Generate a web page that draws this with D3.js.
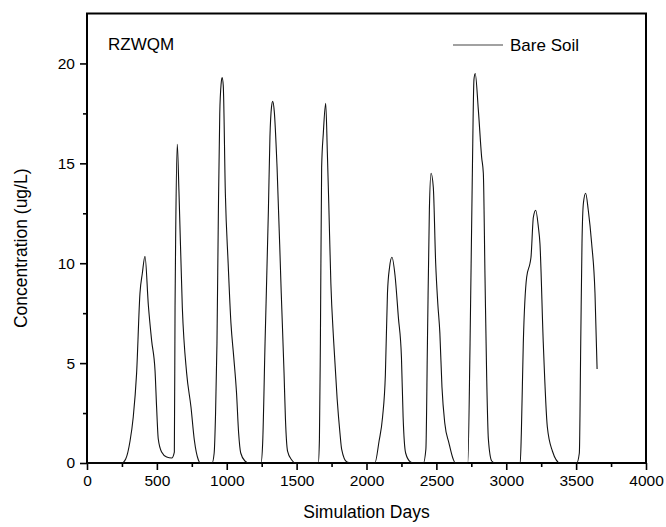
<!DOCTYPE html>
<html>
<head>
<meta charset="utf-8">
<script src="https://cdn.jsdelivr.net/npm/d3@7"></script>
<style>
  body { margin: 0; background: #fff; }
  text { font-family: "Liberation Sans", Arial, sans-serif; fill: #000; }
</style>
</head>
<body>
<div class="canvas"></div>
<script>
// simulated days and concentrations
const days = [
    0, 248, 277, 308, 331, 355, 379, 396, 415, 439, 463, 487, 498, 510, 534, 570, 606, 625, 630, 635, 646, 658, 682, 713, 744, 768, 797, 810,
    895, 910, 920, 930, 940, 950, 960, 967, 975, 990, 1010, 1030, 1050, 1070, 1085, 1100, 1130, 1160,
    1245, 1257, 1274, 1298, 1309, 1320, 1329, 1340, 1360, 1390, 1410, 1420, 1435, 1465, 1490,
    1655, 1663, 1670, 1679, 1691, 1708, 1720, 1730, 1745, 1765, 1790, 1810, 1822, 1860, 1900,
    2060, 2090, 2115, 2135, 2150, 2165, 2182, 2204, 2228, 2250, 2262, 2280, 2315, 2340,
    2407, 2425, 2436, 2450, 2462, 2478, 2495, 2510, 2525, 2540, 2560, 2590, 2620, 2635,
    2725, 2741, 2757, 2769, 2778, 2800, 2824, 2836, 2848, 2860, 2872, 2896, 2920,
    3100, 3108, 3122, 3146, 3170, 3177, 3194, 3211, 3230, 3241, 3265, 3294, 3330, 3385,
    3504, 3523, 3533, 3542, 3552, 3568, 3587, 3611, 3635, 3650
];
const conc = [
    0, 0, 0.2, 1.1, 2.3, 4.5, 8.5, 9.5, 10.35, 7.9, 6.1, 4.6, 2.8, 1.2, 0.55, 0.3, 0.25, 0.55, 7.8, 11.7, 15.95, 13.6, 7.8, 4.5, 2.8, 1.15, 0.15, 0,
    0, 0.5, 2.5, 6, 12.5, 17.5, 19.0, 19.3, 18.9, 13.5, 10, 7, 5.3, 3.5, 1.5, 0.5, 0.1, 0,
    0, 1, 6, 12.65, 16.3, 17.8, 18.1, 17.6, 14.8, 8.5, 4.5, 2.2, 0.6, 0.15, 0,
    0, 1.15, 6, 14.8, 16.5, 18.0, 15.5, 13, 9, 6.1, 3.2, 1.5, 0.7, 0.05, 0,
    0, 1.1, 2.3, 4.4, 8.5, 9.8, 10.3, 9.4, 7.3, 5.3, 2.3, 0.5, 0.05, 0,
    0, 0.7, 6, 12.7, 14.5, 13.8, 10, 8, 6.5, 3.8, 2.0, 1.0, 0.2, 0,
    0, 6, 14.3, 19.2, 19.5, 17.7, 15.3, 14.5, 9.3, 4.3, 1.2, 0.1, 0,
    0, 1.5, 6, 9.3, 10.0, 10.3, 12.3, 12.65, 11.8, 11.0, 6, 1.8, 0.6, 0,
    0, 0.5, 6, 11, 13, 13.5, 12.65, 11, 8.5, 4.7
];
const xTicks = [0, 500, 1000, 1500, 2000, 2500, 3000, 3500, 4000];
const yTicks = [0, 5, 10, 15, 20];
const seriesName = 'Bare Soil';
const modelName = 'RZWQM';

const dims = {width: 666, height: 527};
const plot = {left: 87, right: 646, top: 13.5, bottom: 463};

const svg = d3.select('.canvas')
    .append('svg')
    .attr('width', dims.width)
    .attr('height', dims.height);

const x = d3.scaleLinear().domain([0, 4000]).range([plot.left, plot.right]);
const y = d3.scaleLinear().domain([0, 22.5]).range([plot.bottom, plot.top]);

// minor ticks first, majors over them
const xMinor = d3.axisBottom(x)
    .tickValues(d3.range(250, 4000, 500))
    .tickSize(4).tickFormat('');
const yMinor = d3.axisLeft(y)
    .tickValues([2.5, 7.5, 12.5, 17.5])
    .tickSize(4).tickFormat('');

svg.append('g')
    .attr('transform', `translate(0, ${plot.bottom})`)
    .call(xMinor);
svg.append('g')
    .attr('transform', `translate(${plot.left}, 0)`)
    .call(yMinor);

const xAxis = d3.axisBottom(x).tickValues(xTicks).tickFormat(d3.format('d')).tickSize(7).tickPadding(5);
const yAxis = d3.axisLeft(y).tickValues(yTicks).tickFormat(d3.format('d')).tickSize(7).tickPadding(5);

const xg = svg.append('g')
    .attr('transform', `translate(0, ${plot.bottom})`)
    .call(xAxis);
const yg = svg.append('g')
    .attr('transform', `translate(${plot.left}, 0)`)
    .call(yAxis);

svg.selectAll('.domain').remove();
svg.selectAll('.tick line').attr('stroke', '#000').attr('stroke-width', 1.6);
xg.selectAll('text').attr('font-size', 15.5);
yg.selectAll('text').attr('font-size', 15.5);

// frame
svg.append('rect')
    .attr('x', plot.left)
    .attr('y', plot.top)
    .attr('width', plot.right - plot.left)
    .attr('height', plot.bottom - plot.top)
    .attr('fill', 'none')
    .attr('stroke', '#000')
    .attr('stroke-width', 2);

// the series
const points = days.map((d, i) => ({day: d, value: conc[i]}));

const line = d3.line()
    .x(d => x(d.day))
    .y(d => y(d.value))
    .curve(d3.curveMonotoneX);

svg.append('path')
    .datum(points)
    .attr('d', line)
    .attr('fill', 'none')
    .attr('stroke', '#111')
    .attr('stroke-width', 1.1);

// labels
svg.append('text')
    .attr('x', 108)
    .attr('y', 50)
    .attr('font-size', 17)
    .text(modelName);

svg.append('line')
    .attr('x1', 453).attr('x2', 503)
    .attr('y1', 45).attr('y2', 45)
    .attr('stroke', '#444')
    .attr('stroke-width', 1.2);

svg.append('text')
    .attr('x', 510)
    .attr('y', 51)
    .attr('font-size', 17)
    .text(seriesName);

svg.append('text')
    .attr('x', (plot.left + plot.right) / 2)
    .attr('y', 518)
    .attr('text-anchor', 'middle')
    .attr('font-size', 17.5)
    .text('Simulation Days');

svg.append('text')
    .attr('transform', `translate(27, ${(plot.top + plot.bottom) / 2 + 10}) rotate(-90)`)
    .attr('text-anchor', 'middle')
    .attr('font-size', 17.5)
    .text('Concentration (ug/L)');
</script>
</body>
</html>
